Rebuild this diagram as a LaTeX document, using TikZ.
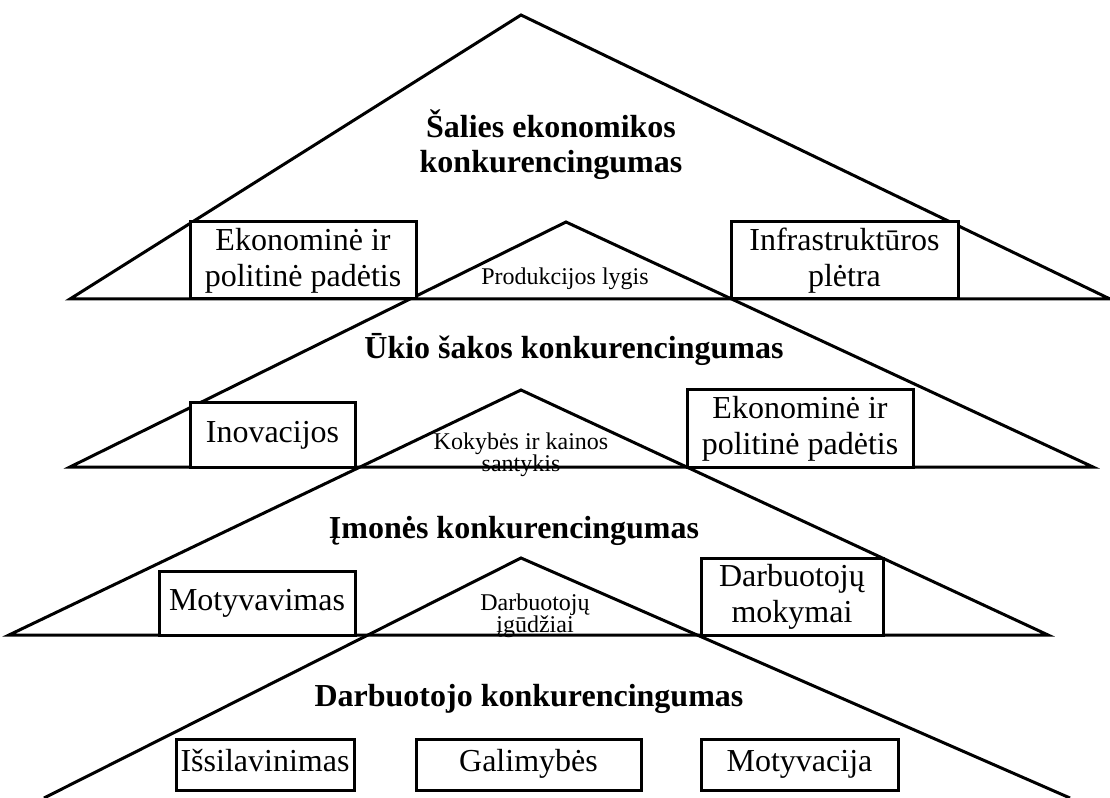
\documentclass[tikz,border=0pt]{standalone}
\usepackage{fontspec}
\setmainfont{Liberation Serif}
\tikzset{
  roof/.style={draw=black, line width=2.25pt, line join=miter},
  box/.style={
    draw=black, fill=white, line width=2.25pt, inner sep=0pt,
    align=center, font=\fontsize{24}{27}\selectfont
  },
  onebox/.style={box, text height=16.8pt, text depth=6.3pt},
  title/.style={font=\bfseries\fontsize{24}{26.25}\selectfont, align=center},
  note/.style={font=\fontsize{18}{16.5}\selectfont, align=center},
}
\begin{document}
\begin{tikzpicture}[x=0.75pt,y=-0.75pt]
\useasboundingbox (0,0) rectangle (1110,798);

% ---- Roofs ----
\coordinate (salisTop) at (521,15);
\coordinate (salisL) at (70,299);
\coordinate (salisR) at (1110,299);
\coordinate (ukisTop) at (566,222);
\coordinate (ukisL) at (70,467);
\coordinate (ukisR) at (1093,467);
\coordinate (imoneTop) at (521,390);
\coordinate (imoneL) at (9,635);
\coordinate (imoneR) at (1048,635);
\coordinate (darbTop) at (521,558);
\coordinate (darbL) at (44,798);
\coordinate (darbR) at (1070,798);

\draw[roof] (salisL) -- (salisTop) -- (salisR) -- cycle;
\draw[roof] (ukisL) -- (ukisTop) -- (ukisR) -- cycle;
\draw[roof] (imoneL) -- (imoneTop) -- (imoneR) -- cycle;
\draw[roof] (darbL) -- (darbTop) -- (darbR);

% ---- Country level ----
\node[title] (salis) at (551,145) {Šalies ekonomikos\\konkurencingumas};
\node[box, minimum width=169.5pt, minimum height=57.75pt] (ekpol1) at (303,260.5)
  {Ekonominė ir\\politinė padėtis};
\node[box, minimum width=170.25pt, minimum height=57.75pt] (infra) at (844.5,260.5)
  {Infrastruktūros\\plėtra};
\node[note] (prod) at (565,279) {Produkcijos lygis};

% ---- Branch level ----
\node[title] (ukis) at (574,349) {Ūkio šakos konkurencingumas};
\node[onebox, minimum width=123.75pt, minimum height=48pt] (inov) at (272.5,435) {Inovacijos};
\node[box, minimum width=169.5pt, minimum height=57.75pt] (ekpol2) at (800,428.5)
  {Ekonominė ir\\politinė padėtis};
\node[note] (kokybe) at (521,455) {Kokybės ir kainos\\santykis};

% ---- Company level ----
\node[title] (imone) at (514,531) {Įmonės konkurencingumas};
\node[onebox, minimum width=147pt, minimum height=48pt] (motyv) at (257,603) {Motyvavimas};
\node[box, minimum width=136.5pt, minimum height=57.75pt] (mokym) at (792,596.5)
  {Darbuotojų\\mokymai};
\node[note] (igud) at (535,616) {Darbuotojų\\įgūdžiai};

% ---- Employee level ----
\node[title] (darb) at (529,699) {Darbuotojo konkurencingumas};
\node[onebox, minimum width=133.5pt, minimum height=38.25pt] (issil) at (265,764.5) {Išsilavinimas};
\node[onebox, minimum width=168.75pt, minimum height=38.25pt] (galim) at (528.5,764.5) {Galimybės};
\node[onebox, minimum width=147.75pt, minimum height=38.25pt] (motyvac) at (799.5,764.5) {Motyvacija};

\end{tikzpicture}
\end{document}
